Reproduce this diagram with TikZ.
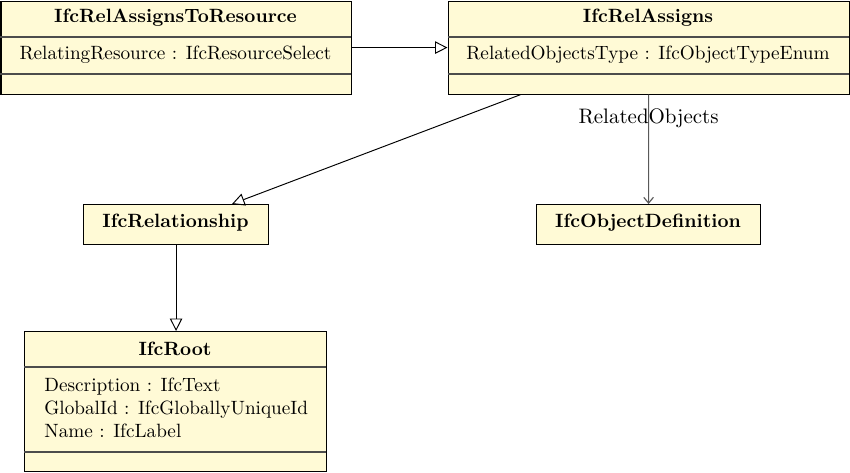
\documentclass[tikz,border=0pt]{standalone}
\usetikzlibrary{arrows.meta,calc}
\definecolor{umlfill}{RGB}{255,250,214}
\begin{document}
\begin{tikzpicture}[x=0.52pt,y=-0.52pt,
  umlbox/.style={draw=black, fill=umlfill, line width=0.6pt, inner sep=0pt, anchor=north west},
  sep/.style={draw=black!70, line width=0.6pt},
  title/.style={font=\bfseries, inner sep=0pt},
  attr/.style={inner sep=0pt},
  gen/.style={-{Triangle[open,length=6.5pt,width=6.5pt]}, line width=0.5pt},
  assoc/.style={-{Straight Barb[length=3pt,width=5pt]}, line width=0.6pt, draw=black!65}]
\useasboundingbox (0,0) rectangle (850,472);
% IfcRelAssignsToResource
\node[umlbox, minimum width=350*0.52pt, minimum height=93*0.52pt] (A) at (0.5,0.5) {};
\draw[sep] (0.5,37) -- (350.5,37);
\draw[sep] (0.5,74) -- (350.5,74);
\node[title] (At) at (175.5,18) {IfcRelAssignsToResource};
\node[attr] (Aa) at (175.5,55) {RelatingResource : IfcResourceSelect};
% IfcRelAssigns
\node[umlbox, minimum width=401*0.52pt, minimum height=93*0.52pt] (B) at (447.5,0.5) {};
\draw[sep] (447.5,37) -- (848.5,37);
\draw[sep] (447.5,74) -- (848.5,74);
\node[title] (Bt) at (648,18) {IfcRelAssigns};
\node[attr] (Ba) at (648,55) {RelatedObjectsType : IfcObjectTypeEnum};
% IfcRelationship
\node[umlbox, minimum width=185*0.52pt, minimum height=40*0.52pt] (C) at (83,204) {};
\node[title] (Ct) at (175.5,223) {IfcRelationship};
% IfcObjectDefinition
\node[umlbox, minimum width=224*0.52pt, minimum height=40*0.52pt] (D) at (536,204) {};
\node[title] (Dt) at (648,223) {IfcObjectDefinition};
% IfcRoot
\node[umlbox, minimum width=302*0.52pt, minimum height=140*0.52pt] (E) at (24,331) {};
\draw[sep] (24,367) -- (326,367);
\draw[sep] (24,452) -- (326,452);
\node[title] (Et) at (175,349) {IfcRoot};
\node[attr, anchor=west, align=left] (Ea) at (44,408) {Description : IfcText\\GlobalId : IfcGloballyUniqueId\\Name : IfcLabel};
% connectors
\draw[gen] (A.east) -- (B.west);
\draw[gen] ($(B.south west)+(73,0)$) -- ($(C.north west)+(149,0)$);
\draw[gen] (C.south) -- (C.south |- E.north);
\draw[assoc] (B.south) -- node[pos=0.22, inner sep=0pt, font=\fontsize{10.9}{13}\selectfont] (lbl) {RelatedObjects} (D.north);
\end{tikzpicture}
\end{document}
